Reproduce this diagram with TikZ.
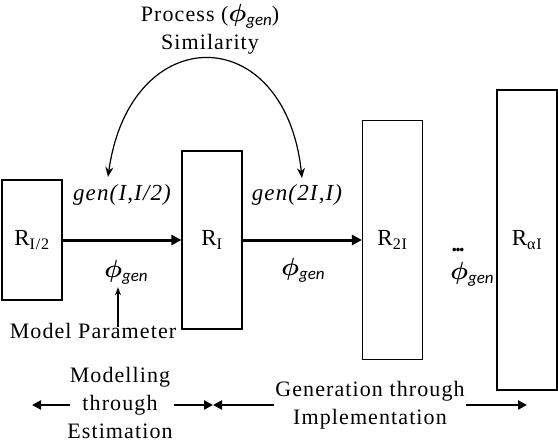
\documentclass[tikz,border=0pt]{standalone}
\usepackage{amsmath}
\usepackage{fontspec}
\setmainfont{Liberation Serif}[LetterSpace=5]
\newfontfamily\subfont{Carlito}
\usetikzlibrary{arrows.meta,positioning,calc}
\newcommand{\phigen}{{\fontsize{26}{26}\selectfont\(\boldsymbol{\phi}\)}{\raisebox{-4pt}{\fontsize{17}{17}\subfont\itshape gen}}}

\begin{document}
\begin{tikzpicture}[x=1pt, y=-1pt,
            block/.style={rectangle, draw=black, line width=1.2pt, minimum width=60pt, inner sep=0pt, font=\fontsize{23}{26}\selectfont},
            lbl/.style={font=\fontsize{22}{28}\selectfont, inner sep=1pt, align=center},
            flow/.style={-{Triangle[length=10pt,width=10pt]}, line width=3pt},
            spanarrow/.style={-{Triangle[length=9pt,width=9pt]}, line width=2.8pt},
            simarrow/.style={{Stealth[length=10pt,width=8pt]}-{Stealth[length=10pt,width=8pt]}, line width=1.2pt},
            paramarrow/.style={-{Stealth[length=8pt,width=6pt]}, line width=1.2pt}
        ]
        \useasboundingbox (0,0) rectangle (558,442);

        % Resolution blocks
        \node[block, minimum height=120pt] (rhalf) at (32,240) {R\textsubscript{I/2}};
        \node[block, minimum height=178pt] (rone) at (212,240) {R\textsubscript{I}};
        \node[block, minimum height=239pt] (rtwo) at (392.5,240) {R\textsubscript{2I}};
        \node[block, minimum height=300pt] (ralpha) at (527,240) {R\textsubscript{αI}};

        % Generation arrows
        \draw[flow] (rhalf.east) -- (rone.west);
        \draw[flow] (rone.east) -- (rtwo.west);

        % Labels on the arrows
        \node[lbl, font=\fontsize{23}{26}\selectfont\itshape] (genone) at (122,195) {gen(I,I/2)};
        \node[lbl, font=\fontsize{23}{26}\selectfont\itshape] (gentwo) at (297,195) {gen(2I,I)};
        \node[lbl] (phione) at (126,272) {\phigen};
        \node[lbl] (phitwo) at (303,270) {\phigen};
        \node[lbl, font=\fontsize{22}{22}\selectfont\bfseries\addfontfeature{LetterSpace=-8}] (dots) at (458,250) {...};
        \node[lbl] (phidots) at (472,274) {\phigen};

        % Process similarity
        \node[lbl] (title) at (210,29) {Process (\phigen)\\Similarity};
        \coordinate (simL) at (108,177);
        \coordinate (simR) at (302,178);
        \draw[simarrow] (simL) .. controls (130,19.5) and (285,19.5) .. (simR);

        % Model parameter
        \node[lbl] (param) at (93,331) {Model Parameter};
        \draw[paramarrow] ([xshift=25pt,yshift=-5pt]param.north) -- ([xshift=-8pt,yshift=-2pt]phione.south);

        % Bottom spans
        \node[lbl] (modtext) at (120,403) {Modelling\\through\\Estimation};
        \node[lbl] (gentext) at (370,405) {Generation through\\Implementation};
        \coordinate (leftend) at (32,405);
        \coordinate (split) at (213,405);
        \coordinate (rightend) at (527,405);
        \draw[spanarrow] ([xshift=4pt]modtext.west |- split) -- (leftend);
        \draw[spanarrow] (modtext.east |- split) -- (split);
        \draw[spanarrow] (gentext.west |- split) -- (split);
        \draw[spanarrow] (gentext.east |- split) -- (rightend);

        \end{tikzpicture}
\end{document}
